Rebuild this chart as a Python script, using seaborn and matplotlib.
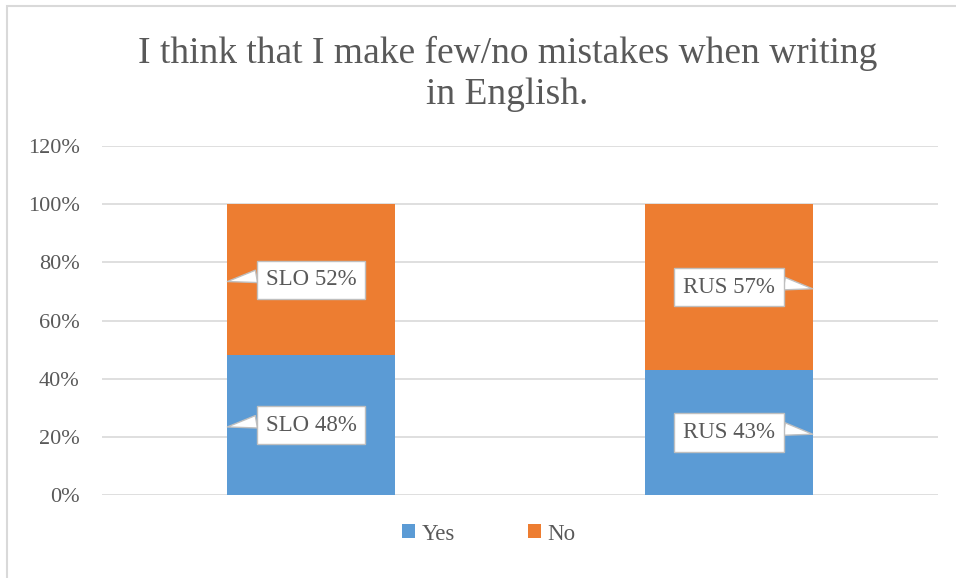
import matplotlib
matplotlib.use("Agg")
import matplotlib.pyplot as plt
import seaborn as sns
import pandas as pd
from matplotlib.patches import Patch, Rectangle
from matplotlib.ticker import PercentFormatter

# Survey answers per group (percent of respondents)
groups = ["SLO", "RUS"]
yes_pct = [48, 43]
no_pct = [52, 57]
series = ["Yes", "No"]
yticks = [0, 20, 40, 60, 80, 100, 120]
title = "I think that I make few/no mistakes when writing\nin English."

colors = {"Yes": "#5B9BD5", "No": "#ED7D31"}
text_color = "#595959"
grid_color = "#D9D9D9"

sns.set_theme(style="white")
plt.rcParams["font.family"] = ["Liberation Serif", "DejaVu Serif"]

df = pd.DataFrame({"group": groups, "Yes": yes_pct, "No": no_pct})
df["total"] = df["Yes"] + df["No"]

fig = plt.figure(figsize=(9.56, 5.78), dpi=100)
ax = fig.add_axes([0.1067, 0.1436, 0.8745, 0.6038])

# Stacked bars: full-height "No" bars behind, "Yes" bars drawn over them
sns.barplot(data=df, x="group", y="total", color=colors["No"], width=0.4,
            saturation=1, errorbar=None, linewidth=0, ax=ax, zorder=2)
sns.barplot(data=df, x="group", y="Yes", color=colors["Yes"], width=0.4,
            saturation=1, errorbar=None, linewidth=0, ax=ax, zorder=2)

ax.set_xlim(-0.5, len(groups) - 0.5)
ax.set_ylim(yticks[0], yticks[-1])
ax.set_yticks(yticks)
ax.yaxis.set_major_formatter(PercentFormatter(decimals=0))
ax.set_xticks([])
ax.set_xlabel("")
ax.set_ylabel("")
ax.grid(axis="y", color=grid_color, linewidth=1.2)
ax.set_axisbelow(True)
for side in ax.spines.values():
    side.set_visible(False)
ax.tick_params(axis="y", length=0, labelsize=16, colors=text_color, pad=16)

# Callout labels pointing to the outer edge of each bar
bar_patches = ax.patches[:len(groups)]
for i, g in enumerate(groups):
    p = bar_patches[i]
    x0, w = p.get_x(), p.get_width()
    left_side = i == 0
    tip_x = x0 if left_side else x0 + w
    segments = [(yes_pct[i] / 2, yes_pct[i]),
                (yes_pct[i] + no_pct[i] / 2, no_pct[i])]
    for mid, val in segments:
        ax.annotate(f"{g} {val}%", xy=(tip_x, mid - 0.6), xytext=(x0 + w / 2, mid),
                    ha="center", va="center", fontsize=16.5, color=text_color,
                    bbox=dict(boxstyle="square,pad=0.38", fc="white",
                              ec="#BFBFBF", lw=1),
                    arrowprops=dict(arrowstyle="wedge,tail_width=0.55",
                                    fc="white", ec="#BFBFBF", lw=1,
                                    relpos=(0.0 if left_side else 1.0, 0.74),
                                    shrinkA=0, shrinkB=0),
                    zorder=5)

fig.text(0.531, 0.872, title, ha="center", va="center", multialignment="center",
         fontsize=27, color=text_color, linespacing=1.22)

handles = [Patch(facecolor=colors[s], edgecolor="none", label=s) for s in series]
fig.legend(handles=handles, loc="center", bbox_to_anchor=(489 / 956, 1 - 534 / 578),
           ncol=2, frameon=False, fontsize=16.5, labelcolor=text_color,
           handlelength=0.55, handleheight=0.55, handletextpad=0.3,
           columnspacing=3.2)

# Chart-area border
fig.add_artist(Rectangle((7 / 956, -0.1), 1.2, (1 - 6 / 578) + 0.1,
                         transform=fig.transFigure, fill=False,
                         ec=grid_color, lw=1.5))

fig.savefig("out.png", dpi=100)
